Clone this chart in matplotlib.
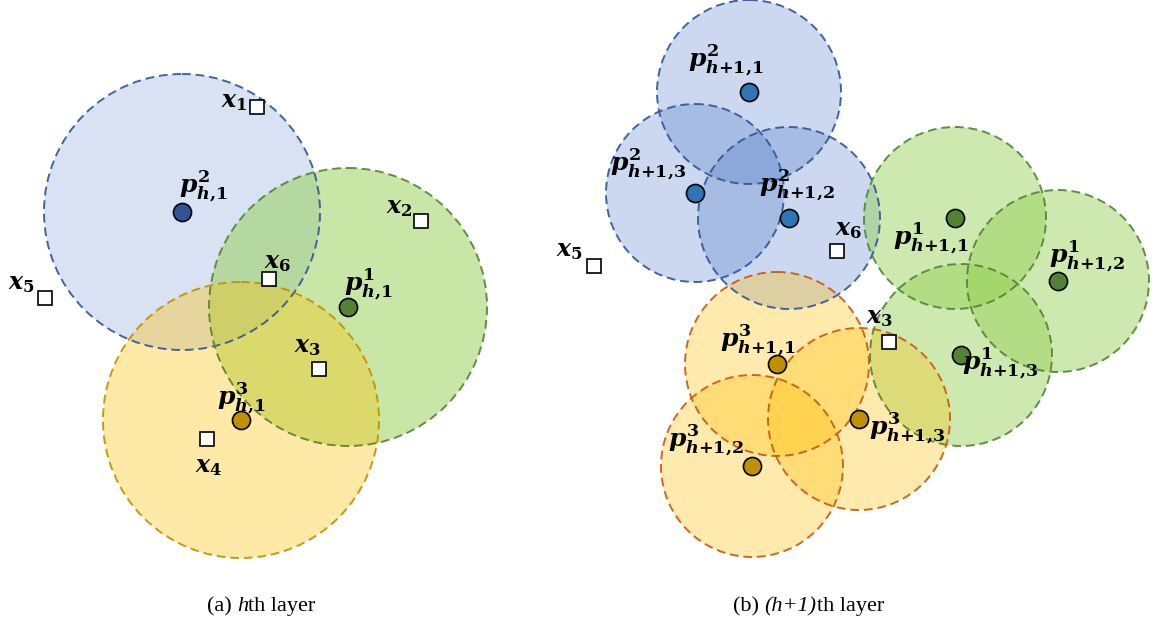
import matplotlib.pyplot as plt
from matplotlib.patches import Circle

# bold serif maths for the point labels
plt.rcParams['mathtext.fontset'] = 'custom'
plt.rcParams['mathtext.it'] = 'DejaVu Serif:italic:bold'
plt.rcParams['mathtext.rm'] = 'DejaVu Serif:bold'
plt.rcParams['mathtext.bf'] = 'DejaVu Serif:bold'

# cluster regions: centre x, centre y, radius, group (pixel units, y downward)
left_cx = [182, 348, 241]
left_cy = [212, 307, 420]
left_r = [138, 139, 138]
left_grp = ['blue', 'green', 'gold']

right_cx = [749, 695, 789, 955, 1058, 961, 777, 752, 859]
right_cy = [92, 193, 218, 218, 281, 355, 364, 466, 419]
right_r = [92, 89, 91, 91, 91, 91, 92, 91, 91]
right_grp = ['blue', 'blue', 'blue', 'green', 'green', 'green', 'orange', 'orange', 'orange']

# prototype labels and their text positions
left_plab = [r'$p^2_{h{,}1}$', r'$p^1_{h{,}1}$', r'$p^3_{h{,}1}$']
left_plab_xy = [(203, 186), (368, 284), (241, 398)]
right_plab = [r'$p^2_{h{+}1{,}1}$', r'$p^2_{h{+}1{,}3}$', r'$p^2_{h{+}1{,}2}$',
              r'$p^1_{h{+}1{,}1}$', r'$p^1_{h{+}1{,}2}$', r'$p^1_{h{+}1{,}3}$',
              r'$p^3_{h{+}1{,}1}$', r'$p^3_{h{+}1{,}2}$', r'$p^3_{h{+}1{,}3}$']
right_plab_xy = [(726, 60), (648, 164), (797, 185), (931, 238), (1087, 256), (1000, 363),
                 (758, 340), (706, 440), (907, 428)]

# data samples
left_sx = [257, 421, 319, 207, 45, 269]
left_sy = [107, 221, 369, 439, 298, 279]
left_slab = ['1', '2', '3', '4', '5', '6']
left_slab_xy = [(234, 101), (399, 207), (307, 346), (209, 466), (21, 283), (278, 262)]

right_sx = [594, 837, 889]
right_sy = [266, 251, 342]
right_slab = ['5', '6', '3']
right_slab_xy = [(569, 250), (849, 229), (879, 317)]

# panel captions as (text, italic) pieces
cap_a = [('(a) ', False), ('h', True), ('th layer', False)]
cap_b = [('(b) ', False), ('(h+1)', True), ('th layer', False)]

face = {'blue': '#4472c4', 'green': '#92d050', 'gold': '#ffc000', 'orange': '#ffc000'}
edge = {'blue': '#2f5597', 'green': '#548235', 'gold': '#bf9000', 'orange': '#c55a11'}
dot = {'blue': '#2e75b6', 'green': '#548235', 'gold': '#bf9000', 'orange': '#bf9000'}
alpha_left = {'blue': 0.2, 'green': 0.5, 'gold': 0.35}
alpha_right = {'blue': 0.27, 'green': 0.45, 'orange': 0.32}


def draw_circles(ax, cx, cy, r, grp, alpha):
    for x, y, rr, g in zip(cx, cy, r, grp):
        ax.add_patch(Circle((x, y), rr, facecolor=face[g], alpha=alpha[g], lw=0, zorder=1))
        ax.add_patch(Circle((x, y), rr, fill=False, edgecolor=edge[g], lw=1.4,
                            ls=(0, (4.5, 2.5)), alpha=0.9, zorder=2))
    for x, y, g in zip(cx, cy, grp):
        c = '#2f5597' if (g == 'blue' and alpha[g] < 0.25) else dot[g]
        ax.plot(x, y, 'o', ms=13, mfc=c, mec='black', mew=1.2, zorder=4)


def caption(ax, x, y, pieces):
    prev = None
    for s, it in pieces:
        kw = dict(fontsize=16, family='Liberation Serif', style='italic' if it else 'normal',
                  va='baseline', ha='left')
        if prev is None:
            prev = ax.text(x, y, s, **kw)
        else:
            prev = ax.annotate(s, xy=(1, y), xycoords=(prev, 'data'), **kw)


def main():
    fig = plt.figure(figsize=(11.56, 6.26), dpi=100)
    ax = fig.add_axes([0, 0, 1, 1])
    ax.set_xlim(0, 1156)
    ax.set_ylim(626, 0)
    ax.axis('off')

    draw_circles(ax, left_cx, left_cy, left_r, left_grp, alpha_left)
    draw_circles(ax, right_cx, right_cy, right_r, right_grp, alpha_right)

    ax.plot(left_sx + right_sx, left_sy + right_sy, 's', ms=10, mfc='white',
            mec='black', mew=1.2, zorder=4)

    for lab, (x, y) in zip(left_plab + right_plab, left_plab_xy + right_plab_xy):
        ax.text(x, y, lab, fontsize=18, ha='center', va='center', zorder=5)
    for lab, (x, y) in zip(left_slab + right_slab, left_slab_xy + right_slab_xy):
        ax.text(x, y, r'$x_%s$' % lab, fontsize=17, ha='center', va='center', zorder=5)

    caption(ax, 207, 611, cap_a)
    caption(ax, 733, 611, cap_b)

    fig.savefig('out.png', dpi=100)


if __name__ == '__main__':
    main()
